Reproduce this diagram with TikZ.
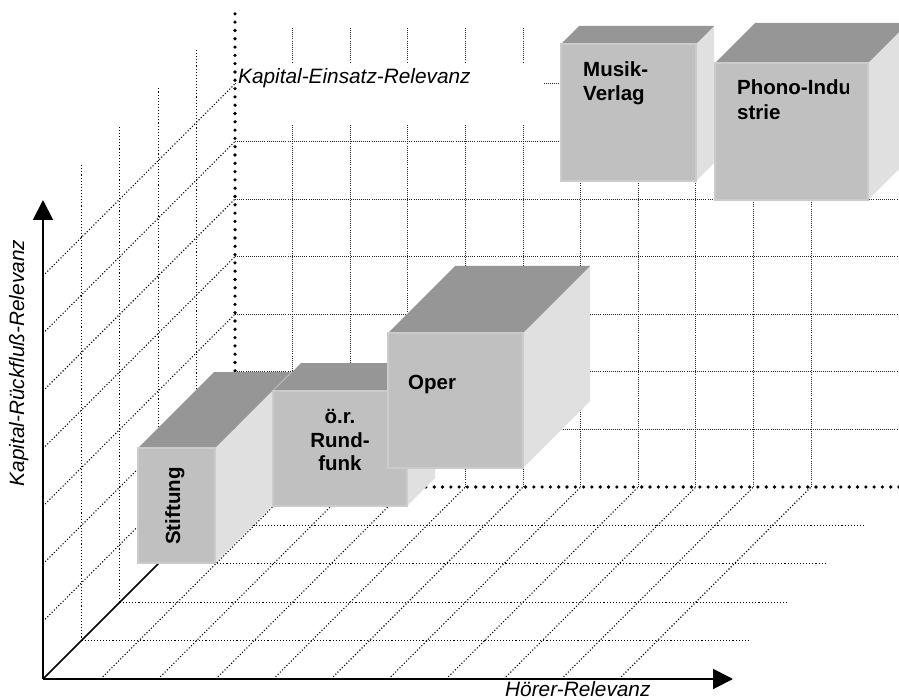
\documentclass[tikz,border=0pt]{standalone}
\usepackage{fontspec}
\setmainfont{Liberation Sans}
\usetikzlibrary{arrows.meta}
\definecolor{topgray}{HTML}{969696}
\definecolor{frontgray}{HTML}{C0C0C0}
\definecolor{sidegray}{HTML}{E0E0E0}
\definecolor{edgegray}{HTML}{CBCBCB}
\newcommand\drawcube[5]{%
  \fill[sideface] ({#1+#3},{#2}) -- ++(#5,-#5) -- ++(0,#4) -- ++(-#5,#5) -- cycle;
  \fill[topface] ({#1},{#2}) -- ++(#5,-#5) -- ++(#3,0) -- ++(-#5,#5) -- cycle;
  \draw[frontface] ({#1},{#2}) rectangle ++(#3,#4);
}
\begin{document}
\begin{tikzpicture}[x=1pt,y=-1pt,
  floorgrid/.style={line width=1.1pt, dash pattern=on 1.1pt off 2pt},
  wallgrid/.style={line width=0.9pt, black!85, dash pattern=on 0.9pt off 1.2pt},
  thickdot/.style={line width=3.6pt, line cap=round, dash pattern=on 0pt off 8.3pt},
  axis/.style={line width=2pt, -{Triangle[length=20pt,width=20pt]}},
  frontface/.style={fill=frontgray, draw=edgegray, line width=1.5pt},
  topface/.style={fill=topgray},
  sideface/.style={fill=sidegray},
  lbl/.style={font=\fontsize{20.8}{24}\selectfont\itshape, inner sep=0pt},
  boxlbl/.style={font=\fontsize{20.5}{24}\selectfont\bfseries, inner sep=0pt}]
\useasboundingbox (0,0) rectangle (899,700);
\fill[white] (0,0) rectangle (899,700);
\coordinate (O) at (43,679);
\coordinate (xend) at (733,679);
\coordinate (yend) at (43,200);
\coordinate (zend) at (235,487);
\coordinate (ztop) at (235,8);
\coordinate (zright) at (899,487);
\begin{scope}
\clip (0,0) rectangle (899,700);
% back wall
\foreach \m in {1,...,7}
  \draw[wallgrid] (235,{487-57.6*\m}) -- (899,{487-57.6*\m});
\foreach \j in {1,...,10}
  \draw[wallgrid] ({235+57.6*\j},28) -- ({235+57.6*\j},487);
% side wall
\foreach \k in {1,...,4}
  \draw[floorgrid] ({43+38.4*\k},{679-38.4*\k}) -- ({43+38.4*\k},{202-38.4*\k});
\foreach \m in {1,...,7}
  \draw[floorgrid] (43,{679-57.6*\m}) -- (235,{487-57.6*\m});
% floor
\foreach \k in {1,...,4}
  \draw[floorgrid] ({43+38.4*\k},{679-38.4*\k}) -- ({712+38.4*\k},{679-38.4*\k});
\foreach \i in {1,...,10}
  \draw[floorgrid] ({43+57.6*\i},679) -- ({235+57.6*\i},487);
% label box for depth axis
\fill[white] (237,63) rectangle (544,123);
\node[lbl, anchor=base west] (kein) at (238,84) {Kapital-Einsatz-Relevanz};
% thick dotted edges
\draw[thickdot] (zend) -- (ztop);
\draw[thickdot] (zend) -- (zright);
% axes
\draw[line width=1.5pt] (O) -- (zend);
\draw[axis] (O) -- (xend);
\draw[axis] (O) -- (yend);
% cubes
\drawcube{138}{448}{77}{115}{76}
\drawcube{273}{391}{134}{115}{28}
\drawcube{388}{333}{135}{135}{67}
\drawcube{561}{44}{135}{137}{18}
\drawcube{715}{63}{153}{137}{40}
\end{scope}
% axis labels
\node[lbl, anchor=base west] (hoerer) at (505,696.5) {Hörer-Relevanz};
\node[lbl, anchor=base, rotate=90] (krr) at (24,363) {Kapital-Rückfluß-Relevanz};
% cube labels
\node[boxlbl, anchor=base, rotate=90] (stiftung) at (180,506) {Stiftung};
\node[boxlbl, anchor=base] (rf1) at (340,423.5) {ö.r.};
\node[boxlbl, anchor=base] (rf2) at (340,447) {Rund-};
\node[boxlbl, anchor=base] (rf3) at (340,470.5) {funk};
\node[boxlbl, anchor=base west] (oper) at (408,389) {Oper};
\node[boxlbl, anchor=base west] (musik1) at (583,77) {Musik-};
\node[boxlbl, anchor=base west] (musik2) at (583,101) {Verlag};
\begin{scope}
\clip (715,60) rectangle (848,105);
\node[boxlbl, anchor=base west] (phono1) at (737,95) {Phono-Indu};
\end{scope}
\node[boxlbl, anchor=base west] (phono2) at (737,120) {strie};
\end{tikzpicture}
\end{document}
